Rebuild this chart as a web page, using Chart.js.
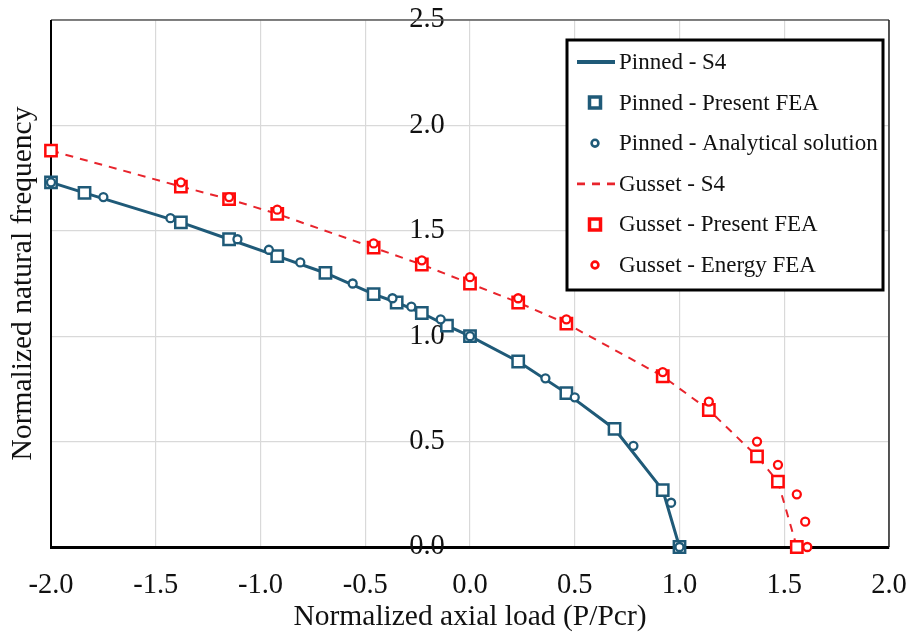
<!DOCTYPE html>
<html>
<head>
<meta charset="utf-8">
<script src="https://cdn.jsdelivr.net/npm/chart.js@4/dist/chart.umd.min.js"></script>
<style>
html,body{margin:0;padding:0;background:#fff;}
#wrap{width:912px;height:634px;position:relative;}
</style>
</head>
<body>
<div id="wrap"><canvas id="c" width="912" height="634"></canvas></div>
<script>
// ---- data ----
const xTickValues = [-2.0, -1.5, -1.0, -0.5, 0.0, 0.5, 1.0, 1.5, 2.0];
const yTickValues = [0.0, 0.5, 1.0, 1.5, 2.0, 2.5];

const pinnedS4X  = [-2.0, -1.84, -1.38, -1.15, -0.92, -0.69, -0.46, -0.35, -0.23, -0.11, 0.0, 0.23, 0.46, 0.69, 0.92, 1.0];
const pinnedS4Y  = [1.73, 1.68, 1.54, 1.46, 1.38, 1.30, 1.20, 1.16, 1.11, 1.05, 1.00, 0.88, 0.73, 0.56, 0.27, 0.0];

const pinnedFeaX = [-2.0, -1.84, -1.38, -1.15, -0.92, -0.69, -0.46, -0.35, -0.23, -0.11, 0.0, 0.23, 0.46, 0.69, 0.92, 1.0];
const pinnedFeaY = [1.73, 1.68, 1.54, 1.46, 1.38, 1.30, 1.20, 1.16, 1.11, 1.05, 1.00, 0.88, 0.73, 0.56, 0.27, 0.0];

const pinnedAnaX = [-2.0, -1.75, -1.43, -1.11, -0.96, -0.81, -0.56, -0.37, -0.28, -0.14, 0.0, 0.36, 0.50, 0.78, 0.96, 1.0];
const pinnedAnaY = [1.73, 1.66, 1.56, 1.46, 1.41, 1.35, 1.25, 1.18, 1.14, 1.08, 1.00, 0.80, 0.71, 0.48, 0.21, 0.0];

const gussetS4X  = [-2.0, -1.38, -1.15, -0.92, -0.46, -0.23, 0.0, 0.23, 0.46, 0.92, 1.14, 1.37, 1.47, 1.56];
const gussetS4Y  = [1.88, 1.71, 1.65, 1.58, 1.42, 1.34, 1.25, 1.16, 1.06, 0.81, 0.65, 0.43, 0.31, 0.0];

const gussetFeaX = [-2.0, -1.38, -1.15, -0.92, -0.46, -0.23, 0.0, 0.23, 0.46, 0.92, 1.14, 1.37, 1.47, 1.56];
const gussetFeaY = [1.88, 1.71, 1.65, 1.58, 1.42, 1.34, 1.25, 1.16, 1.06, 0.81, 0.65, 0.43, 0.31, 0.0];

const gussetEnX  = [-1.38, -1.15, -0.92, -0.46, -0.23, 0.0, 0.23, 0.46, 0.92, 1.14, 1.37, 1.47, 1.56, 1.60, 1.61];
const gussetEnY  = [1.73, 1.66, 1.60, 1.44, 1.36, 1.28, 1.18, 1.08, 0.83, 0.69, 0.50, 0.39, 0.25, 0.12, 0.0];

const seriesNames = ['Pinned - S4', 'Pinned - Present FEA', 'Pinned - Analytical solution',
                     'Gusset - S4', 'Gusset - Present FEA', 'Gusset - Energy FEA'];

// ---- styling ----
const TEAL = '#1f5a78';
const RED = '#ff0a0a';
const FONT = '"Liberation Serif", "Times New Roman", serif';
const pts = (xs, ys) => xs.map((x, i) => ({x: x, y: ys[i]}));

const datasets = [
  {label: seriesNames[0], data: pts(pinnedS4X, pinnedS4Y), showLine: true, borderColor: TEAL, borderWidth: 3,
   pointRadius: 0, order: 5, legendType: 'line'},
  {label: seriesNames[1], data: pts(pinnedFeaX, pinnedFeaY), showLine: false, pointStyle: 'rect', pointRadius: 8,
   borderColor: TEAL, backgroundColor: '#fff', borderWidth: 2.5, order: 3, legendType: 'point'},
  {label: seriesNames[2], data: pts(pinnedAnaX, pinnedAnaY), showLine: false, pointStyle: 'circle', pointRadius: 4,
   borderColor: TEAL, backgroundColor: '#fff', borderWidth: 2.3, order: 1, legendType: 'point'},
  {label: seriesNames[3], data: pts(gussetS4X, gussetS4Y), showLine: true, borderColor: '#e8242c', borderWidth: 2,
   borderDash: [8, 7], pointRadius: 0, order: 6, legendType: 'line'},
  {label: seriesNames[4], data: pts(gussetFeaX, gussetFeaY), showLine: false, pointStyle: 'rect', pointRadius: 8,
   borderColor: RED, backgroundColor: '#fff', borderWidth: 2.5, order: 4, legendType: 'point'},
  {label: seriesNames[5], data: pts(gussetEnX, gussetEnY), showLine: false, pointStyle: 'circle', pointRadius: 4,
   borderColor: RED, backgroundColor: '#fff', borderWidth: 2.3, order: 2, legendType: 'point'}
];
datasets.forEach(d => { d.xAxisID = 'x'; d.yAxisID = 'y'; d.pointHoverRadius = d.pointRadius; d.clip = false; });

// frame lines around the plot area
const framePlugin = {
  id: 'frame',
  beforeDatasetsDraw(chart) {
    const {ctx, chartArea: a} = chart;
    ctx.save();
    ctx.lineCap = 'butt';
    ctx.strokeStyle = '#5a5a5a'; ctx.lineWidth = 1.5;
    ctx.beginPath(); ctx.moveTo(a.left, a.top); ctx.lineTo(a.right, a.top); ctx.stroke();
    ctx.strokeStyle = '#222'; ctx.lineWidth = 1.5;
    ctx.beginPath(); ctx.moveTo(a.right, a.top); ctx.lineTo(a.right, a.bottom); ctx.stroke();
    ctx.strokeStyle = '#000'; ctx.lineWidth = 2;
    ctx.beginPath(); ctx.moveTo(a.left, a.top); ctx.lineTo(a.left, a.bottom); ctx.stroke();
    ctx.restore();
  }
};

// boxed legend inside the plot area
const boxLegend = {
  id: 'boxLegend',
  afterDraw(chart) {
    const {ctx, chartArea: a} = chart;
    const left = a.right - 322, top = a.top + 20, w = 316, h = 250;
    ctx.save();
    ctx.fillStyle = '#fff';
    ctx.fillRect(left, top, w, h);
    ctx.strokeStyle = '#000'; ctx.lineWidth = 3;
    ctx.strokeRect(left, top, w, h);
    ctx.font = '23px ' + FONT;
    ctx.textBaseline = 'middle';
    ctx.textAlign = 'left';
    chart.data.datasets.forEach((d, i) => {
      const y = top + 22 + i * 40.6;
      if (d.legendType === 'line') {
        ctx.save();
        ctx.strokeStyle = d.borderColor; ctx.lineWidth = d.borderWidth + 0.8;
        ctx.setLineDash(d.borderDash || []);
        ctx.beginPath(); ctx.moveTo(left + 10, y); ctx.lineTo(left + 48, y); ctx.stroke();
        ctx.restore();
      } else {
        ctx.save();
        ctx.fillStyle = '#fff'; ctx.strokeStyle = d.borderColor;
        ctx.lineWidth = d.pointStyle === 'rect' ? 3.5 : 2.6;
        ctx.beginPath();
        if (d.pointStyle === 'rect') { ctx.rect(left + 28 - 5.5, y - 5.5, 11, 11); }
        else { ctx.arc(left + 28, y, 3.4, 0, Math.PI * 2); }
        ctx.fill(); ctx.stroke();
        ctx.restore();
      }
      ctx.fillStyle = '#111';
      ctx.fillText(d.label, left + 52, y + 1);
    });
    ctx.restore();
  }
};

const zeroPad = s => { s.paddingTop = 0; s.paddingBottom = 0; s.paddingLeft = 0; s.paddingRight = 0; };

new Chart(document.getElementById('c'), {
  type: 'scatter',
  data: {datasets: datasets},
  plugins: [framePlugin, boxLegend],
  options: {
    responsive: false,
    animation: false,
    devicePixelRatio: 1,
    layout: {padding: {top: 20, right: 23, left: 0, bottom: 0}},
    plugins: {legend: {display: false}, tooltip: {enabled: false}},
    scales: {
      x: {
        type: 'linear', position: 'bottom', min: xTickValues[0], max: xTickValues[xTickValues.length - 1],
        afterBuildTicks: s => { s.ticks = xTickValues.map(v => ({value: v})); },
        ticks: {callback: v => Number(v).toFixed(1), font: {family: FONT, size: 28.5}, color: '#111', padding: 21, maxRotation: 0},
        grid: {color: '#d9d9d9', lineWidth: 1.2, drawTicks: false},
        border: {color: '#000', width: 3},
        title: {display: true, text: 'Normalized axial load (P/Pcr)', font: {family: FONT, size: 29.5, lineHeight: 1},
                color: '#111', padding: {top: 0, bottom: 2}},
        afterFit: s => { s.height = 87; zeroPad(s); }
      },
      y: {
        // invisible axis whose labels sit just left of the x = 0 grid line
        type: 'linear', position: {x: -0.12}, min: yTickValues[0], max: yTickValues[yTickValues.length - 1],
        afterBuildTicks: s => { s.ticks = yTickValues.map(v => ({value: v})); },
        ticks: {callback: v => Number(v).toFixed(1), font: {family: FONT, size: 28.5}, color: '#111', padding: 0},
        grid: {color: '#d9d9d9', lineWidth: 1.2, drawTicks: false},
        border: {display: false},
        afterFit: s => { zeroPad(s); }
      },
      yTitle: {
        type: 'linear', position: 'left', min: yTickValues[0], max: yTickValues[yTickValues.length - 1],
        ticks: {display: false},
        grid: {display: false, drawTicks: false},
        border: {display: false},
        title: {display: true, text: 'Normalized natural frequency', font: {family: FONT, size: 29.5, lineHeight: 1},
                color: '#111', padding: {top: 8, bottom: 0}},
        afterFit: s => { s.width = 51; zeroPad(s); }
      }
    }
  }
});
</script>
</body>
</html>
